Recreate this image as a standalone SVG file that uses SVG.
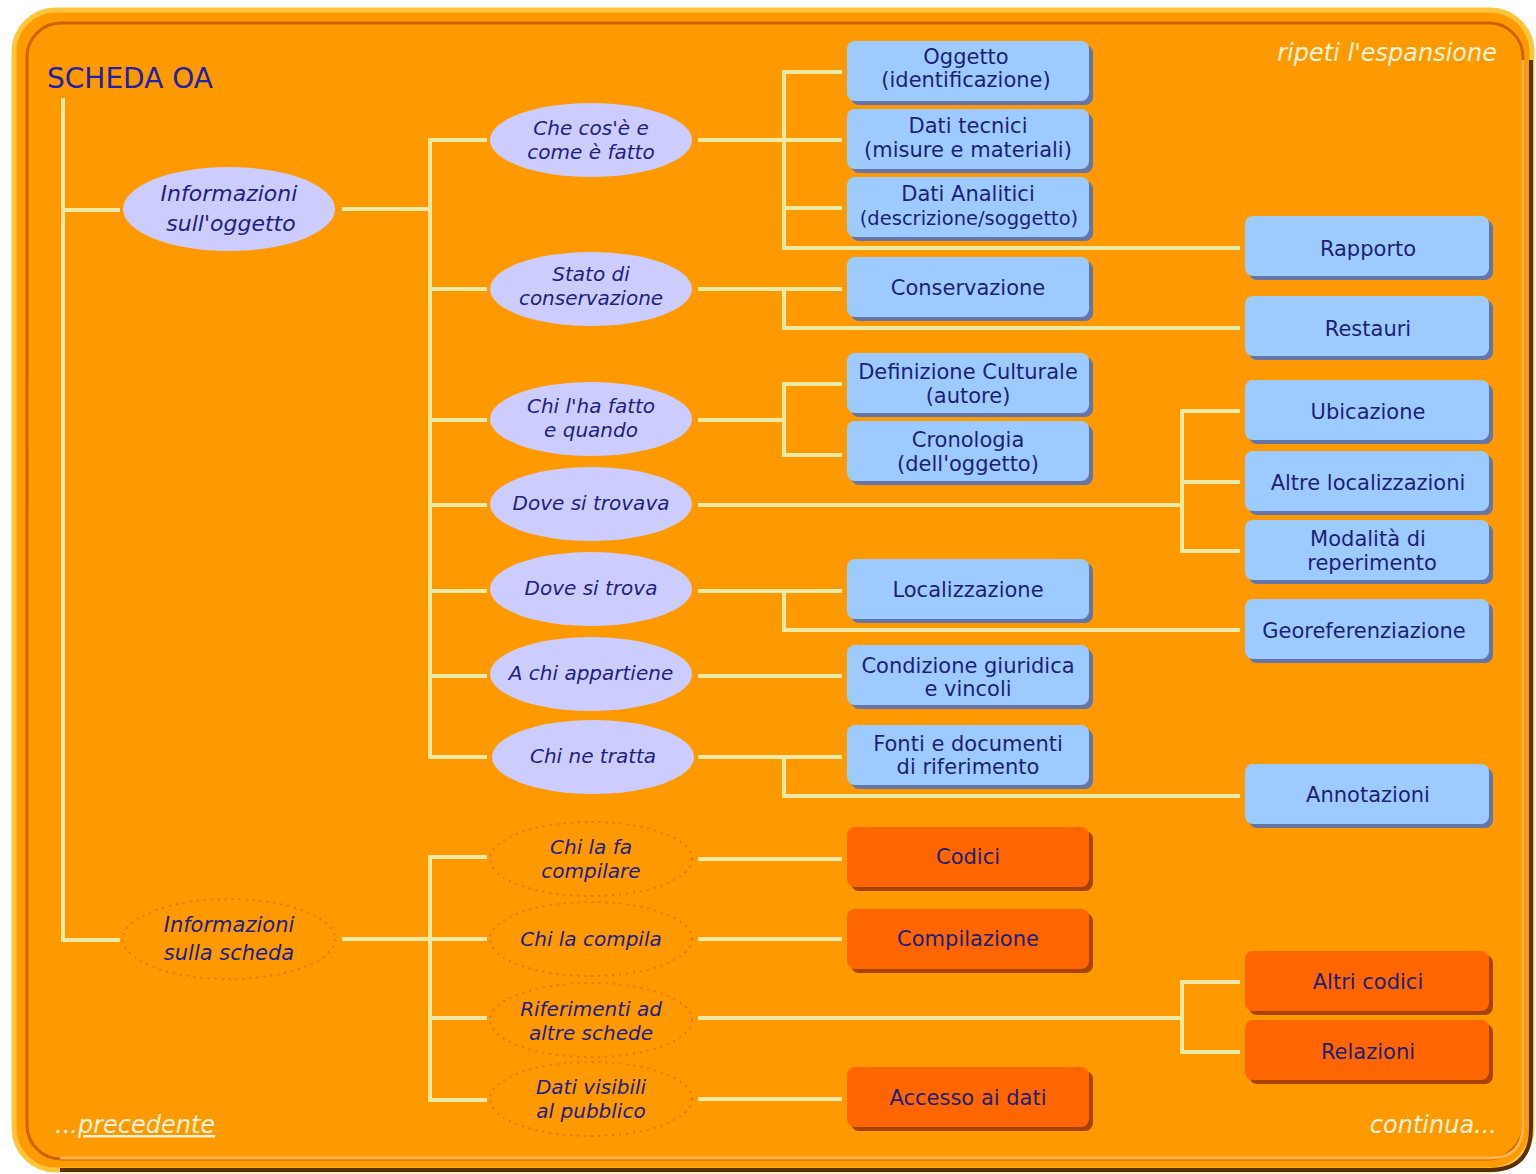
<svg xmlns="http://www.w3.org/2000/svg" width="1536" height="1174" viewBox="0 0 1536 1174">
<style>
.ln{stroke:#EEE9A4;stroke-width:4;fill:none;stroke-linecap:square}
.ell{fill:#CCCCFF}
.dell{fill:none;stroke:#FF6A10;stroke-width:2;stroke-dasharray:2 5}
.et{font-family:"DejaVu Sans",sans-serif;font-style:italic;font-size:20px;fill:#1E1E86;text-anchor:middle}
.bt{font-family:"DejaVu Sans",sans-serif;font-size:21px;fill:#1E1E78;text-anchor:middle}
.bsh{fill:#6675A8}
.bb{fill:#9DCBFF}
.osh{fill:#A84300}
.ob{fill:#FF6600}
.nav{font-family:"DejaVu Sans",sans-serif;font-style:italic;font-size:24px;fill:#FFF3DC}
</style>
<rect width="1536" height="1174" fill="#FFFFFF"/>
<g id="frame">
<rect x="14" y="10" width="1518" height="1160" rx="42" fill="#FF9A00" stroke="#FFC43A" stroke-width="5"/>
<path d="M1531 60 L1531 1128 Q1531 1170 1490 1170 L60 1170" fill="none" stroke="#5A3000" stroke-width="4"/>
<rect x="27" y="23" width="1496" height="1136" rx="34" fill="#FF9900" stroke="#C96400" stroke-width="3"/>
<path d="M1523 60 L1523 1125 Q1523 1158 1490 1158 L60 1158" fill="none" stroke="#FFB54A" stroke-width="3"/>
</g>
<text x="47" y="88" font-family="DejaVu Sans, sans-serif" font-size="28" fill="#2020A8">SCHEDA OA</text>
<text class="nav" x="1497" y="61" text-anchor="end">ripeti l'espansione</text>
<text class="nav" x="55" y="1133">...<tspan text-decoration="underline">precedente</tspan></text>
<text class="nav" x="1497" y="1133" text-anchor="end">continua...</text>

<g id="connectors">
<path class="ln" d="M63 100 V940 M63 210 H118 M63 940 H118"/>
<path class="ln" d="M344 209 H430 M430 140 V757 M430 140 H485 M430 289 H485 M430 420 H485 M430 505 H485 M430 591 H485 M430 676 H485 M430 757 H485"/>
<path class="ln" d="M344 939 H430 M430 857 V1100 M430 857 H485 M430 939 H485 M430 1018 H485 M430 1100 H485"/>
<path class="ln" d="M700 140 H784 M784 72 V248 M784 72 H840 M784 140 H840 M784 208 H840 M784 248 H1238"/>
<path class="ln" d="M700 289 H840 M784 289 V328 H1238"/>
<path class="ln" d="M700 420 H784 M784 384 V455 M784 384 H840 M784 455 H840"/>
<path class="ln" d="M700 505 H1182 M1182 411 V551 M1182 411 H1238 M1182 482 H1238 M1182 551 H1238"/>
<path class="ln" d="M700 591 H840 M784 591 V630 H1238"/>
<path class="ln" d="M700 676 H840"/>
<path class="ln" d="M700 757 H840 M784 757 V796 H1238"/>
<path class="ln" d="M700 859 H840 M700 939 H840 M700 1099 H840"/>
<path class="ln" d="M700 1018 H1182 M1182 982 V1052 M1182 982 H1238 M1182 1052 H1238"/>
</g>

<g id="n-info-oggetto"><ellipse class="ell" cx="229" cy="209" rx="106" ry="42"/><text class="et" x="229" y="201" style="font-size:22px">Informazioni</text><text class="et" x="231" y="231" style="font-size:22px">sull'oggetto</text></g>
<g id="n-info-scheda"><ellipse class="dell" cx="229" cy="939" rx="106" ry="40"/><text class="et" x="229" y="932" style="font-size:21px">Informazioni</text><text class="et" x="229" y="960" style="font-size:21px">sulla scheda</text></g>

<g id="n-checose"><ellipse class="ell" cx="591" cy="140" rx="101" ry="37"/><text class="et" x="591" y="135">Che cos'è e</text><text class="et" x="591" y="159">come è fatto</text></g>
<g id="n-stato"><ellipse class="ell" cx="591" cy="289" rx="101" ry="37"/><text class="et" x="591" y="281">Stato di</text><text class="et" x="591" y="305">conservazione</text></g>
<g id="n-chilha"><ellipse class="ell" cx="591" cy="419" rx="101" ry="37"/><text class="et" x="591" y="413">Chi l'ha fatto</text><text class="et" x="591" y="437">e quando</text></g>
<g id="n-dovetrovava"><ellipse class="ell" cx="591" cy="504" rx="101" ry="37"/><text class="et" x="591" y="510">Dove si trovava</text></g>
<g id="n-dovetrova"><ellipse class="ell" cx="591" cy="589" rx="101" ry="37"/><text class="et" x="591" y="595">Dove si trova</text></g>
<g id="n-achi"><ellipse class="ell" cx="591" cy="674" rx="101" ry="37"/><text class="et" x="591" y="680">A chi appartiene</text></g>
<g id="n-chinetratta"><ellipse class="ell" cx="593" cy="757" rx="101" ry="37"/><text class="et" x="593" y="763">Chi ne tratta</text></g>

<g id="n-chilafa"><ellipse class="dell" cx="591" cy="859" rx="101" ry="37"/><text class="et" x="591" y="854">Chi la fa</text><text class="et" x="591" y="878">compilare</text></g>
<g id="n-chilacompila"><ellipse class="dell" cx="591" cy="939" rx="101" ry="37"/><text class="et" x="591" y="946">Chi la compila</text></g>
<g id="n-riferimenti"><ellipse class="dell" cx="591" cy="1020" rx="101" ry="37"/><text class="et" x="591" y="1016">Riferimenti  ad</text><text class="et" x="591" y="1040">altre schede</text></g>
<g id="n-dativisibili"><ellipse class="dell" cx="591" cy="1099" rx="101" ry="37"/><text class="et" x="591" y="1094">Dati visibili</text><text class="et" x="591" y="1118">al pubblico</text></g>

<g id="b-oggetto"><rect class="bsh" x="851" y="45" width="242" height="60" rx="8"/><rect class="bb" x="847" y="41" width="242" height="60" rx="8"/><text class="bt" x="966" y="64">Oggetto</text><text class="bt" x="966" y="87">(identificazione)</text></g>
<g id="b-datitecnici"><rect class="bsh" x="851" y="113" width="242" height="60" rx="8"/><rect class="bb" x="847" y="109" width="242" height="60" rx="8"/><text class="bt" x="968" y="133">Dati tecnici</text><text class="bt" x="968" y="157">(misure e materiali)</text></g>
<g id="b-datianalitici"><rect class="bsh" x="851" y="181" width="242" height="60" rx="8"/><rect class="bb" x="847" y="177" width="242" height="60" rx="8"/><text class="bt" x="968" y="201">Dati Analitici</text><text class="bt" x="969" y="225" style="font-size:19.5px">(descrizione/soggetto)</text></g>
<g id="b-conservazione"><rect class="bsh" x="851" y="261" width="242" height="60" rx="8"/><rect class="bb" x="847" y="257" width="242" height="60" rx="8"/><text class="bt" x="968" y="295">Conservazione</text></g>
<g id="b-defcult"><rect class="bsh" x="851" y="357" width="242" height="60" rx="8"/><rect class="bb" x="847" y="353" width="242" height="60" rx="8"/><text class="bt" x="968" y="379">Definizione Culturale</text><text class="bt" x="968" y="403">(autore)</text></g>
<g id="b-cronologia"><rect class="bsh" x="851" y="425" width="242" height="60" rx="8"/><rect class="bb" x="847" y="421" width="242" height="60" rx="8"/><text class="bt" x="968" y="447">Cronologia</text><text class="bt" x="968" y="471">(dell'oggetto)</text></g>
<g id="b-localizzazione"><rect class="bsh" x="851" y="563" width="242" height="60" rx="8"/><rect class="bb" x="847" y="559" width="242" height="60" rx="8"/><text class="bt" x="968" y="597">Localizzazione</text></g>
<g id="b-condizione"><rect class="bsh" x="851" y="649" width="242" height="60" rx="8"/><rect class="bb" x="847" y="645" width="242" height="60" rx="8"/><text class="bt" x="968" y="673">Condizione giuridica</text><text class="bt" x="968" y="696">e vincoli</text></g>
<g id="b-fonti"><rect class="bsh" x="851" y="729" width="242" height="60" rx="8"/><rect class="bb" x="847" y="725" width="242" height="60" rx="8"/><text class="bt" x="968" y="751">Fonti e documenti</text><text class="bt" x="968" y="774">di riferimento</text></g>

<g id="b-codici"><rect class="osh" x="851" y="831" width="242" height="60" rx="8"/><rect class="ob" x="847" y="827" width="242" height="60" rx="8"/><text class="bt" x="968" y="864">Codici</text></g>
<g id="b-compilazione"><rect class="osh" x="851" y="913" width="242" height="60" rx="8"/><rect class="ob" x="847" y="909" width="242" height="60" rx="8"/><text class="bt" x="968" y="946">Compilazione</text></g>
<g id="b-accesso"><rect class="osh" x="851" y="1071" width="242" height="60" rx="8"/><rect class="ob" x="847" y="1067" width="242" height="60" rx="8"/><text class="bt" x="968" y="1105">Accesso ai dati</text></g>

<g id="b-rapporto"><rect class="bsh" x="1249" y="220" width="244" height="60" rx="8"/><rect class="bb" x="1245" y="216" width="244" height="60" rx="8"/><text class="bt" x="1368" y="256">Rapporto</text></g>
<g id="b-restauri"><rect class="bsh" x="1249" y="300" width="244" height="60" rx="8"/><rect class="bb" x="1245" y="296" width="244" height="60" rx="8"/><text class="bt" x="1368" y="336">Restauri</text></g>
<g id="b-ubicazione"><rect class="bsh" x="1249" y="384" width="244" height="60" rx="8"/><rect class="bb" x="1245" y="380" width="244" height="60" rx="8"/><text class="bt" x="1368" y="419">Ubicazione</text></g>
<g id="b-altreloc"><rect class="bsh" x="1249" y="455" width="244" height="60" rx="8"/><rect class="bb" x="1245" y="451" width="244" height="60" rx="8"/><text class="bt" x="1368" y="490">Altre localizzazioni</text></g>
<g id="b-modalita"><rect class="bsh" x="1249" y="524" width="244" height="60" rx="8"/><rect class="bb" x="1245" y="520" width="244" height="60" rx="8"/><text class="bt" x="1368" y="546">Modalità di</text><text class="bt" x="1372" y="570">reperimento</text></g>
<g id="b-georef"><rect class="bsh" x="1249" y="603" width="244" height="60" rx="8"/><rect class="bb" x="1245" y="599" width="244" height="60" rx="8"/><text class="bt" x="1364" y="638">Georeferenziazione</text></g>
<g id="b-annotazioni"><rect class="bsh" x="1249" y="768" width="244" height="60" rx="8"/><rect class="bb" x="1245" y="764" width="244" height="60" rx="8"/><text class="bt" x="1368" y="802">Annotazioni</text></g>
<g id="b-altricodici"><rect class="osh" x="1249" y="955" width="244" height="60" rx="8"/><rect class="ob" x="1245" y="951" width="244" height="60" rx="8"/><text class="bt" x="1368" y="989">Altri codici</text></g>
<g id="b-relazioni"><rect class="osh" x="1249" y="1024" width="244" height="60" rx="8"/><rect class="ob" x="1245" y="1020" width="244" height="60" rx="8"/><text class="bt" x="1368" y="1059">Relazioni</text></g>
</svg>
